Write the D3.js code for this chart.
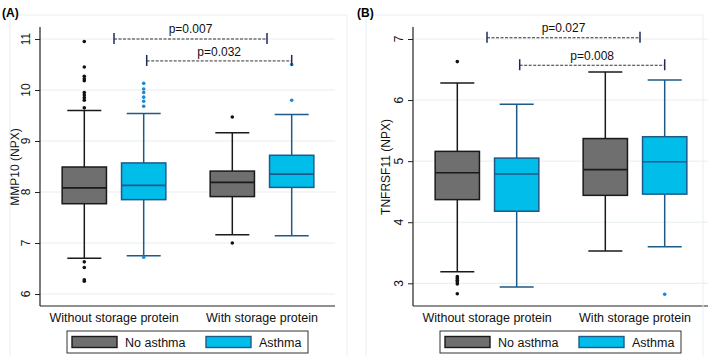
<!DOCTYPE html>
<html>
<head>
<meta charset="utf-8">
<script src="https://cdn.jsdelivr.net/npm/d3@7"></script>
<style>
  body { margin: 0; background: #fff; }
  svg { display: block; font-family: "Liberation Sans", Arial, sans-serif; }
</style>
</head>
<body>
<svg width="709" height="356"></svg>
<script>
// categories
const groups = ["Without storage protein", "With storage protein"];
const asthmaKeys = ["No asthma", "Asthma"];

// box stats per box, order: [no asthma/without, asthma/without, no asthma/with, asthma/with]
// each row: [lower whisker, q1, median, q3, upper whisker]
const mmp10Stats = [
  [6.70, 7.77, 8.08, 8.49, 9.60],
  [6.75, 7.85, 8.13, 8.57, 9.54],
  [7.16, 7.91, 8.19, 8.41, 9.16],
  [7.14, 8.09, 8.35, 8.72, 9.52]
];
const mmp10Outliers = [
  [10.95, 10.45, 10.27, 10.22, 10.18, 9.95, 9.9, 9.85, 9.8, 9.65, 6.63, 6.52, 6.28, 6.25],
  [10.13, 10.02, 9.95, 9.86, 9.78, 9.68, 6.72],
  [9.47, 7.0],
  [10.5, 9.8]
];
const tnfStats = [
  [3.19, 4.37, 4.81, 5.16, 6.28],
  [2.94, 4.18, 4.79, 5.05, 5.93],
  [3.53, 4.44, 4.86, 5.37, 6.46],
  [3.60, 4.46, 4.99, 5.40, 6.33]
];
const tnfOutliers = [
  [6.63, 3.11, 3.08, 3.05, 3.02, 2.99, 2.83],
  [],
  [],
  [2.82]
];

// p-value brackets: [label, y value]
const mmp10Brackets = [["p=0.007", 11.0], ["p=0.032", 10.57]];
const tnfBrackets = [["p=0.027", 7.02], ["p=0.008", 6.57]];

const mmp10Ticks = [6, 7, 8, 9, 10, 11];
const tnfTicks = [3, 4, 5, 6, 7];

const colors = { "No asthma": "#6f6f6f", "Asthma": "#00bdea" };
const strokes = { "No asthma": "#1a1a1a", "Asthma": "#1d5a88" };
const dotColors = { "No asthma": "#111", "Asthma": "#1a8ad6" };

const svg = d3.select("svg");
const plotW = 295;
const plotBottom = 306;

function drawPanel(cfg) {
  const g = svg.append("g").attr("transform", `translate(${cfg.left},0)`);

  // faint outer frame of the graph region
  svg.append("rect")
    .attr("x", cfg.frameX).attr("y", 15)
    .attr("width", 337).attr("height", 345)
    .attr("fill", "none").attr("stroke", "#e9f0f3").attr("stroke-width", 1);

  svg.append("text")
    .attr("x", cfg.left + cfg.tagDx).attr("y", 17)
    .style("font-size", "12px").style("font-weight", "bold")
    .text(cfg.tag);

  const y = d3.scaleLinear().domain(cfg.domain).range(cfg.range);
  const x0 = d3.scaleBand().domain(groups).range([0, 296]);
  const x1 = d3.scaleBand().domain(asthmaKeys).range([0, x0.bandwidth()])
    .paddingInner(0.254).paddingOuter(0.373);
  const bw = x1.bandwidth();

  // gridlines
  g.selectAll(".grid").data(cfg.ticks).enter().append("line")
    .attr("x1", 0).attr("x2", plotW)
    .attr("y1", d => y(d)).attr("y2", d => y(d))
    .attr("stroke", "#e6eef1").attr("stroke-width", 1);

  // y axis ticks (labels drawn rotated, Stata style)
  const yAxis = d3.axisLeft(y).tickValues(cfg.ticks).tickSize(5).tickFormat("");
  const ya = g.append("g").call(yAxis);
  ya.select(".domain").remove();
  ya.selectAll(".tick line").attr("stroke", "#222");
  g.selectAll(".ylab").data(cfg.ticks).enter().append("text")
    .attr("transform", d => `translate(-10,${y(d)}) rotate(-90)`)
    .attr("text-anchor", "middle")
    .style("font-size", "12px").attr("fill", "#111")
    .text(d => d);

  g.append("line").attr("x1", 0).attr("x2", 0).attr("y1", 27).attr("y2", plotBottom)
    .attr("stroke", "#222").attr("stroke-width", 1.2);
  g.append("line").attr("x1", 0).attr("x2", plotW).attr("y1", plotBottom).attr("y2", plotBottom)
    .attr("stroke", "#222").attr("stroke-width", 1.2);

  // y title
  g.append("text")
    .attr("transform", `translate(${cfg.titleDx},${167}) rotate(-90)`)
    .attr("text-anchor", "middle")
    .style("font-size", "12px").attr("fill", "#111")
    .text(cfg.title);

  // category labels
  g.selectAll(".cat").data(groups).enter().append("text")
    .attr("x", d => x0(d) + x0.bandwidth() / 2)
    .attr("y", 322)
    .attr("text-anchor", "middle")
    .style("font-size", "12.5px").attr("fill", "#111")
    .text(d => d);

  // boxes
  const boxes = [];
  groups.forEach((gr, gi) => asthmaKeys.forEach((k, ki) => {
    const i = gi * 2 + ki;
    const s = cfg.stats[i];
    boxes.push({ group: gr, key: k, lo: s[0], q1: s[1], med: s[2], q3: s[3], hi: s[4], out: cfg.outliers[i] });
  }));
  const cx = d => x0(d.group) + x1(d.key) + bw / 2;
  const capW = 34;

  const bg = g.selectAll(".box").data(boxes).enter().append("g");
  // whiskers
  bg.append("line")
    .attr("x1", cx).attr("x2", cx)
    .attr("y1", d => y(d.hi)).attr("y2", d => y(d.q3))
    .attr("stroke", d => strokes[d.key]).attr("stroke-width", 1.5);
  bg.append("line")
    .attr("x1", cx).attr("x2", cx)
    .attr("y1", d => y(d.q1)).attr("y2", d => y(d.lo))
    .attr("stroke", d => strokes[d.key]).attr("stroke-width", 1.5);
  bg.append("line")
    .attr("x1", d => cx(d) - capW / 2).attr("x2", d => cx(d) + capW / 2)
    .attr("y1", d => y(d.hi)).attr("y2", d => y(d.hi))
    .attr("stroke", d => strokes[d.key]).attr("stroke-width", 1.5);
  bg.append("line")
    .attr("x1", d => cx(d) - capW / 2).attr("x2", d => cx(d) + capW / 2)
    .attr("y1", d => y(d.lo)).attr("y2", d => y(d.lo))
    .attr("stroke", d => strokes[d.key]).attr("stroke-width", 1.5);
  bg.append("rect")
    .attr("x", d => x0(d.group) + x1(d.key))
    .attr("width", bw)
    .attr("y", d => y(d.q3))
    .attr("height", d => y(d.q1) - y(d.q3))
    .attr("fill", d => colors[d.key])
    .attr("stroke", d => strokes[d.key]).attr("stroke-width", 1.5);
  bg.append("line")
    .attr("x1", d => x0(d.group) + x1(d.key)).attr("x2", d => x0(d.group) + x1(d.key) + bw)
    .attr("y1", d => y(d.med)).attr("y2", d => y(d.med))
    .attr("stroke", d => strokes[d.key]).attr("stroke-width", 1.7);
  bg.each(function(d) {
    d3.select(this).selectAll("circle").data(d.out).enter().append("circle")
      .attr("cx", cx(d)).attr("cy", v => y(v)).attr("r", 1.8)
      .attr("fill", dotColors[d.key]);
  });

  // brackets
  const spans = [
    [x0(groups[0]) + x0.bandwidth() / 2, x0(groups[1]) + x0.bandwidth() / 2 + 5],
    [x0(groups[0]) + x1("Asthma") + bw / 2 + 3, x0(groups[1]) + x1("Asthma") + bw / 2]
  ];
  cfg.brackets.forEach((b, i) => {
    const [a, c] = spans[i];
    const yy = y(b[1]);
    g.append("line").attr("x1", a).attr("x2", c).attr("y1", yy).attr("y2", yy)
      .attr("stroke", "#333").attr("stroke-width", 1).attr("stroke-dasharray", "3,1.5");
    [a, c].forEach(xx => g.append("line")
      .attr("x1", xx).attr("x2", xx).attr("y1", yy - 6).attr("y2", yy + 5)
      .attr("stroke", "#1f2a5a").attr("stroke-width", 1.5));
    g.append("text").attr("x", (a + c) / 2).attr("y", yy - 5 - (i === 0 ? 1 : 0))
      .attr("text-anchor", "middle")
      .style("font-size", "12px").attr("fill", "#111")
      .text(b[0]);
  });

  // legend
  const lg = g.append("g").attr("transform", "translate(27,331)");
  lg.append("rect").attr("width", 241).attr("height", 22)
    .attr("fill", "#fff").attr("stroke", "#333").attr("stroke-width", 1);
  asthmaKeys.forEach((k, i) => {
    const lx = 5 + i * 134;
    lg.append("rect").attr("x", lx).attr("y", 5.5).attr("width", 45).attr("height", 11)
      .attr("fill", colors[k]).attr("stroke", strokes[k]).attr("stroke-width", 1.4);
    lg.append("text").attr("x", lx + 53).attr("y", 15.5)
      .style("font-size", "12.5px").attr("fill", "#111")
      .text(k);
  });
}

drawPanel({
  left: 40, frameX: 10, tag: "(A)", tagDx: -38, title: "MMP10 (NPX)", titleDx: -21,
  domain: [6, 11], range: [294, 39], ticks: mmp10Ticks,
  stats: mmp10Stats, outliers: mmp10Outliers, brackets: mmp10Brackets
});
drawPanel({
  left: 413, frameX: 366, tag: "(B)", tagDx: -56, title: "TNFRSF11 (NPX)", titleDx: -23,
  domain: [3, 7], range: [283.3, 39], ticks: tnfTicks,
  stats: tnfStats, outliers: tnfOutliers, brackets: tnfBrackets
});
</script>
</body>
</html>
